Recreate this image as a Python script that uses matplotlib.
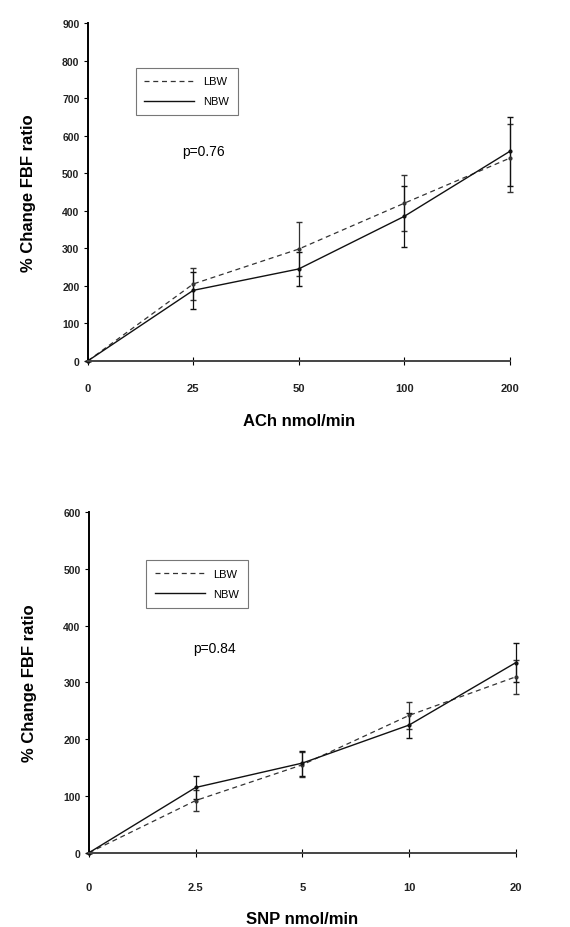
import matplotlib
matplotlib.use("Agg")
import matplotlib.pyplot as plt
from matplotlib.lines import Line2D

plt.rcParams["font.family"] = ["Liberation Sans", "DejaVu Sans"]

# ACh panel
ach_labels = ["0", "25", "50", "100", "200"]
ach_lbw = [0, 205, 298, 420, 540]
ach_lbw_err = [0, 42, 72, 75, 90]
ach_nbw = [0, 188, 245, 385, 558]
ach_nbw_err = [0, 50, 45, 82, 93]

# SNP panel
snp_labels = ["0", "2.5", "5", "10", "20"]
snp_lbw = [0, 92, 155, 242, 310]
snp_lbw_err = [0, 18, 22, 24, 30]
snp_nbw = [0, 115, 158, 225, 335]
snp_nbw_err = [0, 20, 22, 22, 35]


def draw_panel(ax, labels, lbw, lbw_err, nbw, nbw_err, ymax, pval, xlabel,
               leg_anchor, ptxt_pos, xpad):
    x = list(range(len(labels)))
    for ys, err, ls, lw, col in [(lbw, lbw_err, "--", 0.9, "#333333"),
                                  (nbw, nbw_err, "-", 1.0, "#111111")]:
        line = ax.errorbar(x, ys, yerr=err, color=col, linestyle=ls,
                           linewidth=lw, marker="o", markersize=2, capsize=2.5,
                           elinewidth=0.9)
        line.lines[0].set_clip_on(False)
        for c in line.lines[1] + line.lines[2]:
            c.set_clip_on(False)
        if ls == "--":
            line.lines[0].set_dashes((4, 3))
    ax.set_xlim(0, len(labels) - 1)
    ax.set_ylim(0, ymax)
    ax.set_xticks(x)
    ax.set_xticklabels(labels)
    ax.set_yticks(range(0, ymax + 1, 100))
    ax.spines["top"].set_visible(False)
    ax.spines["right"].set_visible(False)
    ax.spines["left"].set_linewidth(1.4)
    ax.spines["bottom"].set_linewidth(1.4)
    ax.spines["bottom"].set_color("#444444")
    ax.tick_params(axis="y", direction="out", length=3, labelsize=7.5, pad=3)
    ax.tick_params(axis="x", direction="inout", length=6, labelsize=8, pad=xpad)
    for t in ax.get_xticklabels() + ax.get_yticklabels():
        t.set_fontweight("bold")
        t.set_color("#222222")
    ax.set_ylabel("% Change FBF ratio", fontsize=12, fontweight="bold", labelpad=19)
    ax.set_xlabel(xlabel, fontsize=12, fontweight="bold", labelpad=14)
    handles = [Line2D([], [], color="#333333", linestyle="--", dashes=(4, 3), linewidth=0.9),
               Line2D([], [], color="#111111", linestyle="-", linewidth=1.0)]
    leg = ax.legend(handles, ["LBW", "NBW"], loc="upper left", bbox_to_anchor=leg_anchor,
                    fontsize=8, frameon=True, fancybox=False, edgecolor="#555555",
                    handlelength=4.5, borderpad=0.8, labelspacing=0.9)
    leg.get_frame().set_linewidth(0.8)
    ax.text(ptxt_pos[0], ptxt_pos[1], pval, transform=ax.transAxes,
            fontsize=10, ha="center", va="center")


fig = plt.figure(figsize=(5.7, 9.28), dpi=100)
ax1 = fig.add_axes([0.154, 0.610, 0.740, 0.364])
ax2 = fig.add_axes([0.156, 0.080, 0.749, 0.367])

draw_panel(ax1, ach_labels, ach_lbw, ach_lbw_err, ach_nbw, ach_nbw_err, 900, "p=0.76",
           "ACh nmol/min", (0.1, 0.885), (0.275, 0.62), 13)
draw_panel(ax2, snp_labels, snp_lbw, snp_lbw_err, snp_nbw, snp_nbw_err, 600, "p=0.84",
           "SNP nmol/min", (0.12, 0.875), (0.295, 0.60), 18)

fig.savefig("out.png", dpi=100)
